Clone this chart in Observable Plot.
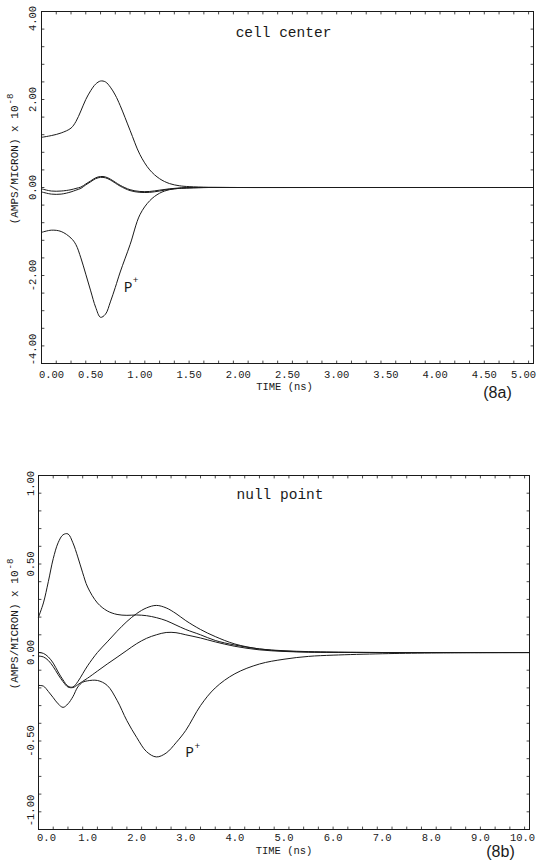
<!DOCTYPE html>
<html>
<head>
<meta charset="utf-8">
<script src="https://cdn.jsdelivr.net/npm/d3@7"></script>
<script src="https://cdn.jsdelivr.net/npm/@observablehq/plot@0.6"></script>
<style>
  html, body { margin: 0; padding: 0; background: #fff; }
  body { width: 537px; height: 862px; position: relative; overflow: hidden; }
  #chartA, #chartB { position: absolute; left: 0; }
  #chartA { top: 0; }
  #chartB { top: 420px; }
</style>
</head>
<body>
<div id="chartA"></div>
<div id="chartB"></div>
<script>
// ---------- data: (8a) cell center ----------
const topTime   = [0, 0.1, 0.2, 0.3, 0.35, 0.4, 0.45, 0.5, 0.55, 0.6, 0.65, 0.7, 0.75, 0.8, 0.9, 1.0, 1.1, 1.2, 1.3, 1.4, 1.5, 1.7, 2.0, 3.0, 4.0, 5.0];
const topUpper  = [1.14, 1.18, 1.24, 1.35, 1.5, 1.74, 2.0, 2.2, 2.35, 2.42, 2.4, 2.28, 2.1, 1.86, 1.3, 0.75, 0.4, 0.2, 0.09, 0.04, 0.02, 0.005, 0, 0, 0, 0];
const topPplus  = [-1.02, -0.97, -1.0, -1.15, -1.3, -1.6, -1.97, -2.35, -2.72, -2.95, -2.88, -2.6, -2.27, -1.92, -1.3, -0.62, -0.3, -0.13, -0.05, -0.02, -0.01, 0, 0, 0, 0, 0];
const topMidA   = [-0.03, -0.08, -0.08, -0.05, -0.02, 0.01, 0.08, 0.15, 0.22, 0.25, 0.24, 0.19, 0.12, 0.05, -0.05, -0.09, -0.09, -0.06, -0.03, -0.01, 0, 0, 0, 0, 0, 0];
const topMidB   = [-0.1, -0.15, -0.15, -0.1, -0.06, -0.02, 0.06, 0.13, 0.2, 0.23, 0.22, 0.17, 0.1, 0.03, -0.07, -0.11, -0.11, -0.08, -0.04, -0.02, -0.01, 0, 0, 0, 0, 0];
const topXTicks = [0, 0.5, 1, 1.5, 2, 2.5, 3, 3.5, 4, 4.5, 5];
const topYTicks = [-4, -2, 0, 2, 4];
const topPLabel = [{t: 0.88, v: -2.27}];

// ---------- data: (8b) null point ----------
const botTime   = [0, 0.1, 0.2, 0.3, 0.4, 0.5, 0.6, 0.7, 0.8, 0.9, 1.0, 1.2, 1.4, 1.6, 1.8, 2.0, 2.2, 2.4, 2.6, 2.8, 3.0, 3.3, 3.6, 4.0, 4.5, 5.0, 5.5, 6.0, 7.0, 8.0, 10.0];
const botPeak   = [0.2, 0.28, 0.4, 0.53, 0.62, 0.665, 0.67, 0.62, 0.54, 0.45, 0.37, 0.28, 0.235, 0.215, 0.21, 0.212, 0.208, 0.197, 0.18, 0.155, 0.13, 0.1, 0.068, 0.042, 0.02, 0.01, 0.005, 0.002, 0, 0, 0];
const botRiseA  = [0.0, -0.005, -0.025, -0.06, -0.11, -0.155, -0.19, -0.195, -0.165, -0.12, -0.075, 0.0, 0.06, 0.12, 0.175, 0.22, 0.252, 0.266, 0.252, 0.22, 0.18, 0.13, 0.09, 0.048, 0.02, 0.008, 0.003, 0.001, 0, 0, 0];
const botRiseB  = [-0.02, -0.025, -0.045, -0.08, -0.125, -0.165, -0.195, -0.198, -0.182, -0.163, -0.145, -0.105, -0.065, -0.027, 0.012, 0.05, 0.08, 0.1, 0.113, 0.112, 0.1, 0.082, 0.06, 0.035, 0.015, 0.006, 0.002, 0.001, 0, 0, 0];
const botPplus  = [-0.186, -0.19, -0.22, -0.255, -0.29, -0.31, -0.29, -0.25, -0.195, -0.168, -0.16, -0.158, -0.186, -0.27, -0.385, -0.48, -0.56, -0.59, -0.568, -0.51, -0.44, -0.3, -0.2, -0.12, -0.065, -0.038, -0.022, -0.015, -0.007, -0.003, -0.001];
const botXTicks = [0, 1, 2, 3, 4, 5, 6, 7, 8, 9, 10];
const botYTicks = [-1, -0.5, 0, 0.5, 1];
const botPLabel = [{t: 3.08, v: -0.565}];

// ---------- text ----------
const titles  = ["cell center", "null point"];
const tags    = ["(8a)", "(8b)"];
const xLabel  = "TIME (ns)";
const yLabel  = "(AMPS/MICRON) x 10";
const yExp    = "-8";

const INK = "#1a1a1a";
const MONO = "'Liberation Mono', 'DejaVu Sans Mono', monospace";
const SANS = "'Liberation Sans', Arial, sans-serif";
const tickShape = {draw(ctx, l) { ctx.moveTo(0, 0); ctx.lineTo(0, -l); }};

function rows(time, series) {
  const out = [];
  for (const [name, vals] of series) vals.forEach((v, i) => out.push({series: name, t: time[i], v}));
  return out;
}

function frameTicks(values, channel, side, len) {
  const rot = {top: 180, bottom: 0, left: 90, right: -90}[side];
  return Plot.vector(values, {[channel]: d => d, frameAnchor: side, length: len, rotate: rot,
    anchor: "start", shape: tickShape, stroke: INK, strokeWidth: 0.8});
}

function chart(cfg) {
  const data = rows(cfg.time, cfg.series);
  const xt = cfg.xTicks, yt = cfg.yTicks;
  const mid = a => a.slice(1, -1);
  const txt = {fontFamily: MONO, fontSize: 10.5, fill: INK};
  return Plot.plot({
    width: 537, height: cfg.height,
    marginLeft: cfg.ml, marginRight: cfg.mr, marginTop: cfg.mt, marginBottom: cfg.mb,
    x: {domain: cfg.xDomain, axis: null},
    y: {domain: cfg.yDomain, axis: null},
    style: {fontFamily: MONO, background: "transparent", color: INK},
    marks: [
      Plot.frame({stroke: INK, strokeWidth: 1}),
      frameTicks(cfg.xMinor, "x", "top", 2.5),
      frameTicks(cfg.xMinor, "x", "bottom", 2.5),
      frameTicks(cfg.yMinor, "y", "left", 2.5),
      frameTicks(cfg.yMinor, "y", "right", 2.5),
      Plot.line(data, {x: "t", y: "v", z: "series", curve: "catmull-rom", stroke: INK, strokeWidth: 1}),
      // x tick labels
      Plot.text(mid(xt), {x: d => d, frameAnchor: "bottom", dy: cfg.xdy, lineAnchor: "middle", text: cfg.xfmt, ...txt}),
      Plot.text([xt[0]], {x: d => d, frameAnchor: "bottom", dy: cfg.xdy, dx: cfg.xEdge[0], lineAnchor: "middle", text: cfg.xfmt, ...txt}),
      Plot.text([xt[xt.length - 1]], {x: d => d, frameAnchor: "bottom", dy: cfg.xdy, dx: cfg.xEdge[1], lineAnchor: "middle", text: cfg.xfmt, ...txt}),
      // y tick labels (rotated)
      Plot.text(mid(yt), {y: d => d, frameAnchor: "left", dx: cfg.ydx, rotate: -90, lineAnchor: "middle", textAnchor: "middle", text: cfg.yfmt, ...txt}),
      Plot.text([yt[0]], {y: d => d, frameAnchor: "left", dx: cfg.ydx, dy: cfg.yEdge[0], rotate: -90, lineAnchor: "middle", textAnchor: "middle", text: cfg.yfmt, ...txt}),
      Plot.text([yt[yt.length - 1]], {y: d => d, frameAnchor: "left", dx: cfg.ydx, dy: cfg.yEdge[1], rotate: -90, lineAnchor: "middle", textAnchor: "middle", text: cfg.yfmt, ...txt}),
      // axis titles
      Plot.text([xLabel], {frameAnchor: "bottom", dx: cfg.xlab[0], dy: cfg.xlab[1], lineAnchor: "middle", text: d => d, fontFamily: MONO, fontSize: 10.5, fill: INK}),
      Plot.text([yLabel], {frameAnchor: "left", dx: cfg.ylab[0], dy: cfg.ylab[1], rotate: -90, textAnchor: "end", lineAnchor: "middle", text: d => d, fontFamily: MONO, fontSize: 11, fill: INK}),
      Plot.text([yExp], {frameAnchor: "left", dx: cfg.ylab[0] - 4.5, dy: cfg.ylab[1] - 1, rotate: -90, textAnchor: "start", lineAnchor: "middle", text: d => d, fontFamily: MONO, fontSize: 9, fill: INK}),
      // panel title and tag
      Plot.text([cfg.title], {frameAnchor: "top", dx: cfg.tpos[0], dy: cfg.tpos[1], lineAnchor: "middle", text: d => d, fontFamily: MONO, fontSize: 14.5, fill: INK}),
      Plot.text([cfg.tag], {frameAnchor: "bottom-right", dx: cfg.tagpos[0], dy: cfg.tagpos[1], lineAnchor: "middle", textAnchor: "middle", text: d => d, fontFamily: SANS, fontSize: 16, fill: INK}),
      // P+ annotation
      Plot.text(cfg.pLabel, {x: "t", y: "v", text: () => "P", lineAnchor: "middle", fontFamily: MONO, fontSize: 14, fill: INK}),
      Plot.text(cfg.pLabel, {x: "t", y: "v", text: () => "+", dx: 7.5, dy: -7, lineAnchor: "middle", fontFamily: MONO, fontSize: 9.5, fill: INK})
    ]
  });
}

const f2 = v => v.toFixed(2);
const f1 = v => v.toFixed(1);

document.getElementById("chartA").append(chart({
  height: 420, ml: 41, mr: 4, mt: 11, mb: 57,
  xDomain: [0, 5], yDomain: [-4, 4],
  time: topTime,
  series: [["upper", topUpper], ["pplus", topPplus], ["midA", topMidA], ["midB", topMidB]],
  xTicks: topXTicks, yTicks: topYTicks,
  xMinor: d3.range(0.15, 5, 0.15), yMinor: d3.range(-3.6, 4, 0.4),
  xfmt: f2, yfmt: f2,
  xdy: 11.5, xEdge: [10, -10], ydx: -9, yEdge: [-14, 7],
  xlab: [-3, 23], ylab: [-27, -82],
  title: titles[0], tpos: [-4, 21],
  tag: tags[0], tagpos: [-36, 29],
  pLabel: topPLabel
}));

document.getElementById("chartB").append(chart({
  height: 442, ml: 38, mr: 8, mt: 55, mb: 33,
  xDomain: [0, 10], yDomain: [-1, 1],
  time: botTime,
  series: [["peak", botPeak], ["riseA", botRiseA], ["riseB", botRiseB], ["pplus", botPplus]],
  xTicks: botXTicks, yTicks: botYTicks,
  xMinor: d3.range(0.3, 10, 0.3), yMinor: d3.range(-0.9, 1, 0.1),
  xfmt: f1, yfmt: f2,
  xdy: 8, xEdge: [8, -7], ydx: -8, yEdge: [-19, 8],
  xlab: [0, 21], ylab: [-24, -82],
  title: titles[1], tpos: [-4, 19],
  tag: tags[1], tagpos: [-29, 22],
  pLabel: botPLabel
}));
</script>
</body>
</html>
